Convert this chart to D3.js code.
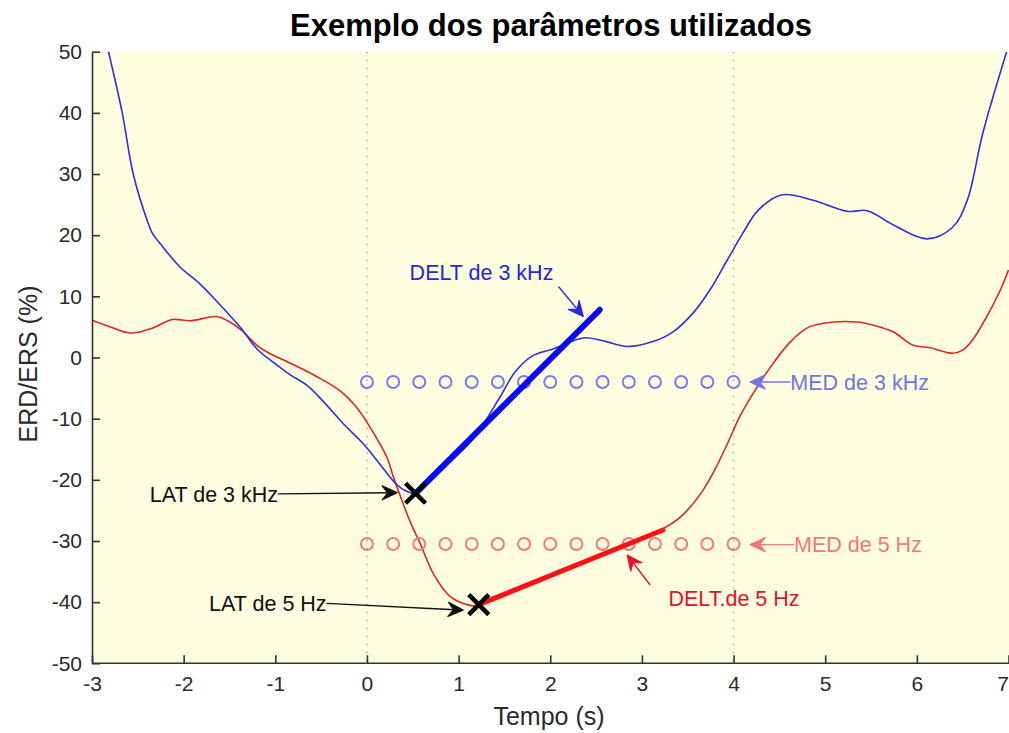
<!DOCTYPE html>
<html>
<head>
<meta charset="utf-8">
<script src="https://cdn.jsdelivr.net/npm/d3@7"></script>
<style>
  html, body { margin: 0; padding: 0; background: #ffffff; }
  svg { display: block; font-family: "Liberation Sans", Arial, sans-serif; }
</style>
</head>
<body>
<svg id="chart" width="1009" height="733"></svg>
<script>
// ERD/ERS time courses (%), time in seconds
const blueT = [-2.82, -2.67, -2.55, -2.40, -2.34, -2.25, -2.04, -1.82, -1.64, -1.38, -1.20, -1.02, -0.84, -0.65, -0.47, -0.26, -0.04, 0.15, 0.30, 0.42, 0.53, 0.66, 0.90, 1.16, 1.45, 1.62, 1.81, 2.03, 2.36, 2.56, 2.84, 3.12, 3.34, 3.56, 3.74, 3.93, 4.10, 4.27, 4.53, 4.87, 5.24, 5.46, 5.74, 6.11, 6.39, 6.55, 6.72, 6.98];
const blueV = [50, 40, 30, 22.5, 20.3, 18.5, 14.8, 12.0, 9.2, 4.9, 1.4, -0.8, -2.8, -4.6, -7.3, -10.8, -14.1, -17.6, -20.4, -21.8, -22.2, -20.6, -17.2, -13.3, -6.5, -2.3, 0.3, 1.4, 3.2, 2.8, 1.8, 2.6, 4.2, 7.3, 11.0, 15.9, 20.3, 24.1, 26.6, 25.7, 23.9, 24.0, 21.7, 19.4, 21.3, 25.7, 36.7, 50];

const redT = [-3.0, -2.80, -2.58, -2.36, -2.12, -1.93, -1.64, -1.52, -1.38, -1.20, -1.09, -0.84, -0.55, -0.29, -0.11, 0.0, 0.11, 0.22, 0.29, 0.36, 0.47, 0.58, 0.73, 0.91, 1.09, 1.21, 1.50, 2.00, 2.50, 3.00, 3.23, 3.42, 3.64, 3.78, 3.93, 4.07, 4.25, 4.43, 4.61, 4.80, 4.98, 5.35, 5.52, 5.74, 5.96, 6.14, 6.39, 6.50, 6.61, 6.76, 6.91, 7.0];
const redV = [6.1, 5.0, 4.0, 4.7, 6.2, 6.0, 6.7, 6.0, 4.6, 2.0, 0.9, -0.9, -3.1, -5.5, -8.2, -10.6, -13.3, -16.4, -19.6, -22.5, -26.8, -30.4, -35.5, -39.1, -40.4, -40.6, -38.6, -35.6, -32.6, -29.6, -28.0, -26.1, -22.3, -18.8, -14.2, -9.6, -5.0, -1.0, 2.4, 4.8, 5.6, 5.8, 5.3, 4.2, 2.0, 1.6, 0.7, 1.2, 2.9, 6.6, 11.0, 14.3];

// Mean level over the 0–4 s window
const medT = [0, 0.286, 0.571, 0.857, 1.143, 1.429, 1.714, 2.0, 2.286, 2.571, 2.857, 3.143, 3.429, 3.714, 4.0];
const med3kHz = -4.0;
const med5Hz = -30.5;

// Latency (minimum) points and DELT slope segments [time, value]
const lat3kHz = [0.53, -22.2];
const lat5Hz = [1.22, -40.4];
const delt3kHzEnd = [2.54, 7.8];
const delt5HzEnd = [3.23, -28.2];

// Window markers and ticks
const windowT = [0, 4];
const xTicks = [-3, -2, -1, 0, 1, 2, 3, 4, 5, 6, 7];
const yTicks = [-50, -40, -30, -20, -10, 0, 10, 20, 30, 40, 50];

const svg = d3.select("#chart");
const x = d3.scaleLinear().domain([-3, 7]).range([92, 1008.5]);
const y = d3.scaleLinear().domain([-50, 50]).range([663.3, 51.7]);

// plot background
svg.append("rect")
  .attr("x", x(-3)).attr("y", y(50))
  .attr("width", 1009 - x(-3)).attr("height", y(-50) - y(50))
  .attr("fill", "#fefde0");

svg.append("clipPath").attr("id", "plotclip")
  .append("rect").attr("x", x(-3)).attr("y", y(50))
  .attr("width", 1009 - x(-3)).attr("height", y(-50) - y(50));

const plot = svg.append("g").attr("clip-path", "url(#plotclip)");

// dotted window lines
plot.selectAll(".win").data(windowT).join("line")
  .attr("x1", d => x(d)).attr("x2", d => x(d))
  .attr("y1", y(50)).attr("y2", y(-50))
  .attr("stroke", "#a8a8a0").attr("stroke-width", 1.6)
  .attr("stroke-dasharray", "1.6,6.4");

// axes (plain hyphen minus in tick labels)
const axisColor = "#333";
const fmt = d => String(d);
const yAxis = svg.append("g").attr("transform", `translate(${x(-3)},0)`)
  .call(d3.axisLeft(y).tickValues(yTicks).tickFormat(fmt).tickSize(-8).tickSizeOuter(0).tickPadding(10));
const xAxis = svg.append("g").attr("transform", `translate(0,${y(-50)})`)
  .call(d3.axisBottom(x).tickValues(xTicks).tickFormat(fmt).tickSize(-8).tickSizeOuter(0).tickPadding(13));
[xAxis, yAxis].forEach(g => {
  g.select(".domain").attr("stroke", axisColor).attr("stroke-width", 1.6);
  g.selectAll(".tick line").attr("stroke", axisColor).attr("stroke-width", 1.6);
  g.selectAll(".tick text").attr("fill", "#2a2a2a")
    .style("font-size", "21px").style("font-family", "'Liberation Sans', Arial, sans-serif");
});
xAxis.select(".domain").attr("d", `M${x(-3)},0H1009`);
// keep the last x label inside the page
xAxis.selectAll(".tick text").filter(d => d === 7).attr("text-anchor", "end");

// curves
const line = d3.line().x(d => x(d[0])).y(d => y(d[1])).curve(d3.curveCatmullRom.alpha(0.5));
const bluePts = blueT.map((t, i) => [t, blueV[i]]);
const redPts = redT.map((t, i) => [t, redV[i]]);

plot.append("path").datum(redPts).attr("d", line)
  .attr("fill", "none").attr("stroke", "#e02424").attr("stroke-width", 1.6);
plot.append("path").datum(bluePts).attr("d", line)
  .attr("fill", "none").attr("stroke", "#3030d8").attr("stroke-width", 1.6);

// MED circles
function medRow(value, color) {
  plot.append("g").selectAll("circle").data(medT).join("circle")
    .attr("cx", d => x(d)).attr("cy", y(value)).attr("r", 6)
    .attr("fill", "none").attr("stroke", color).attr("stroke-width", 2);
}
medRow(med3kHz, "#7a7aec");
medRow(med5Hz, "#ee7c7c");

// DELT segments
plot.append("line")
  .attr("x1", x(lat3kHz[0])).attr("y1", y(lat3kHz[1]))
  .attr("x2", x(delt3kHzEnd[0])).attr("y2", y(delt3kHzEnd[1]))
  .attr("stroke", "#0b0bf0").attr("stroke-width", 6).attr("stroke-linecap", "round");
plot.append("line")
  .attr("x1", x(lat5Hz[0])).attr("y1", y(lat5Hz[1]))
  .attr("x2", x(delt5HzEnd[0])).attr("y2", y(delt5HzEnd[1]))
  .attr("stroke", "#ff1010").attr("stroke-width", 5).attr("stroke-linecap", "round");

// LAT markers
[lat3kHz, lat5Hz].forEach(p => {
  const cx = x(p[0]), cy = y(p[1]), s = 10;
  plot.append("path")
    .attr("d", `M${cx - s},${cy - s}L${cx + s},${cy + s}M${cx - s},${cy + s}L${cx + s},${cy - s}`)
    .attr("stroke", "#000").attr("stroke-width", 4.5);
});

// annotation arrows (line + notched head at the tip)
function arrow(from, to, color, width) {
  const x1 = x(from[0]), y1 = y(from[1]), x2 = x(to[0]), y2 = y(to[1]);
  const a = Math.atan2(y2 - y1, x2 - x1);
  const g = svg.append("g");
  g.append("line").attr("x1", x1).attr("y1", y1)
    .attr("x2", x2 - 8 * Math.cos(a)).attr("y2", y2 - 8 * Math.sin(a))
    .attr("stroke", color).attr("stroke-width", width);
  g.append("path").attr("d", "M0,0L-15,-7L-9.5,0L-15,7Z")
    .attr("transform", `translate(${x2},${y2}) rotate(${a * 180 / Math.PI})`)
    .attr("fill", color).attr("stroke", color).attr("stroke-width", 1.2).attr("stroke-linejoin", "round");
}
function label(txt, at, color, anchor) {
  svg.append("text").attr("x", x(at[0])).attr("y", y(at[1]))
    .attr("dy", "0.36em").attr("text-anchor", anchor)
    .attr("fill", color).style("font-size", "21.5px").text(txt);
}

// LAT labels
label("LAT de 3 kHz", [-0.97, -22.3], "#111", "end");
arrow([-0.97, -22.3], [0.33, -22.1], "#111", 1.4);
label("LAT de 5 Hz", [-0.44, -40.2], "#111", "end");
arrow([-0.44, -40.2], [1.05, -41.3], "#111", 1.4);

// MED labels
label("MED de 3 kHz", [4.62, -4.0], "#7474e4", "start");
arrow([4.62, -4.0], [4.18, -4.0], "#7474e4", 1.4);
label("MED de 5 Hz", [4.66, -30.6], "#ee7a7a", "start");
arrow([4.66, -30.6], [4.18, -30.6], "#ee7a7a", 1.4);

// DELT labels
label("DELT de 3 kHz", [1.25, 14.0], "#2626dc", "middle");
arrow([2.09, 11.6], [2.36, 6.7], "#2626dc", 1.4);
label("DELT.de 5 Hz", [3.29, -39.3], "#e0142a", "start");
arrow([3.09, -37.2], [2.84, -32.3], "#e0142a", 1.4);

// title and axis labels
svg.append("text").attr("x", 551).attr("y", 36).attr("text-anchor", "middle")
  .style("font-size", "31px").style("font-weight", "bold").attr("fill", "#000")
  .text("Exemplo dos parâmetros utilizados");
svg.append("text").attr("x", 549).attr("y", 725).attr("text-anchor", "middle")
  .style("font-size", "25px").attr("fill", "#2a2a2a").text("Tempo (s)");
svg.append("text").attr("transform", "translate(37,364) rotate(-90)").attr("text-anchor", "middle")
  .style("font-size", "25px").attr("fill", "#2a2a2a").text("ERD/ERS (%)");
</script>
</body>
</html>
